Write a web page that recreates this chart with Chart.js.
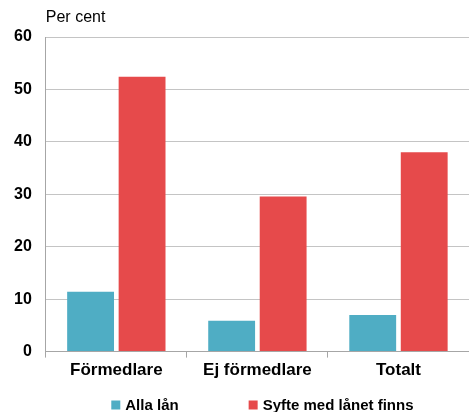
<!DOCTYPE html>
<html>
<head>
<meta charset="utf-8">
<script src="https://cdn.jsdelivr.net/npm/chart.js@4"></script>
<style>
  html, body { margin: 0; padding: 0; background: #fff; }
  #wrap { width: 469px; height: 412px; position: relative; }
</style>
</head>
<body>
<div id="wrap"><canvas id="chart"></canvas></div>
<script>
const categories = ['Förmedlare', 'Ej förmedlare', 'Totalt']
const allaLan = [11.4, 5.9, 7.0]
const syfteFinns = [52.4, 29.6, 38.0]
const seriesNames = ['Alla lån', 'Syfte med lånet finns']
const yTicks = [0, 10, 20, 30, 40, 50, 60]

const FONT = "'Liberation Sans', Arial, sans-serif"

// unit label above the y axis
const unitLabel = {
    id: 'unitLabel',
    afterDraw(chart) {
        const ctx = chart.ctx
        ctx.save()
        ctx.font = '16px ' + FONT
        ctx.fillStyle = '#000'
        ctx.textBaseline = 'middle'
        ctx.textAlign = 'left'
        ctx.fillText('Per cent', chart.chartArea.left, 18)
        ctx.restore()
    }
}

// legend row under the x labels
const bottomLegend = {
    id: 'bottomLegend',
    afterDraw(chart) {
        const ctx = chart.ctx
        const box = 9, gapText = 5, gapItem = 70
        ctx.save()
        ctx.font = 'bold 15px ' + FONT
        ctx.textBaseline = 'middle'
        ctx.textAlign = 'left'
        const items = chart.data.datasets.map(ds => ({
            label: ds.label,
            color: ds.backgroundColor,
            w: box + gapText + ctx.measureText(ds.label).width
        }))
        const total = items.reduce((s, it) => s + it.w, 0) + gapItem * (items.length - 1)
        const cx = (chart.chartArea.left + chart.chartArea.right) / 2 + 5
        let x = cx - total / 2
        const y = 405
        items.forEach(it => {
            ctx.fillStyle = it.color
            ctx.fillRect(x, y - box / 2, box, box)
            ctx.fillStyle = '#000'
            ctx.fillText(it.label, x + box + gapText, y + 1)
            x += it.w + gapItem
        })
        ctx.restore()
    }
}

new Chart(document.getElementById('chart'), {
    type: 'bar',
    data: {
        labels: categories,
        datasets: [
            { label: seriesNames[0], data: allaLan, backgroundColor: '#4fadc4' },
            { label: seriesNames[1], data: syfteFinns, backgroundColor: '#e64a4b' }
        ]
    },
    options: {
        responsive: true,
        maintainAspectRatio: false,
        animation: false,
        categoryPercentage: 0.73,
        barPercentage: 0.91,
        layout: { padding: { top: 37, right: 0, bottom: 28, left: 0 } },
        plugins: {
            legend: { display: false },
            tooltip: { enabled: false }
        },
        scales: {
            x: {
                grid: {
                    offset: true,
                    drawOnChartArea: false,
                    tickLength: 6,
                    color: '#a6a6a6'
                },
                border: { color: '#a6a6a6' },
                ticks: {
                    color: '#000',
                    padding: 3,
                    font: { family: FONT, size: 17, weight: 'bold' }
                }
            },
            y: {
                min: 0,
                max: 60,
                afterBuildTicks: axis => { axis.ticks = yTicks.map(v => ({ value: v })) },
                grid: { color: '#c4c4c4', drawTicks: false },
                border: { color: '#a6a6a6' },
                ticks: {
                    color: '#000',
                    padding: 14,
                    font: { family: FONT, size: 16, weight: 'bold' }
                }
            }
        }
    },
    plugins: [unitLabel, bottomLegend]
});
</script>
</body>
</html>
